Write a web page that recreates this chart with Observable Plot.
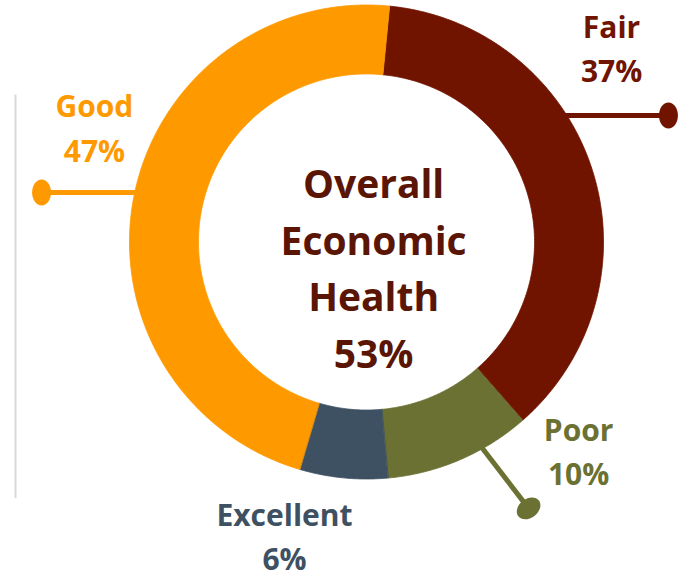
<!DOCTYPE html>
<html>
<head>
<meta charset="utf-8">
<script src="https://cdn.jsdelivr.net/npm/d3@7"></script>
<script src="https://cdn.jsdelivr.net/npm/@observablehq/plot@0.6"></script>
<style>
  html, body { margin: 0; padding: 0; background: #fff; }
  #chart { width: 687px; height: 575px; }
</style>
</head>
<body>
<div id="chart"></div>
<script>
// ---- data ----
const categories = ["Fair", "Poor", "Excellent", "Good"];
const values = [37, 10, 6, 47];
const valueLabels = ["37%", "10%", "6%", "47%"];
const centerLines = ["Overall", "Economic", "Health", "53%"];

// ---- styles / layout ----
const colors = ["#701400", "#6B7133", "#3E5162", "#FF9900"];
const centerColor = "#5A1505";
const startAngleDeg = 5.6;
const innerRatio = 0.709;
const font = "'Open Sans', Lato, sans-serif";

// label anchors (in radius units, y up)
const labelX = [1.034, 0.895, -0.346, -1.148];
const labelY = [0.827, -0.873, -1.232, 0.492];
// leader lines: start and dot (radius units)
const leaderCats = ["Fair", "Good", "Poor"];
const leaderX1 = [0.70, -0.85, 0.45];
const leaderY1 = [0.534, 0.209, -0.82];
const leaderX2 = [1.274, -1.371, 0.684];
const leaderY2 = [0.534, 0.209, -1.124];
const leaderRot = [0, 0, 52.5];

// ---- derived geometry ----
const pie = d3.pie().sort(null).value(d => d)
  .startAngle(startAngleDeg * Math.PI / 180)
  .endAngle(startAngleDeg * Math.PI / 180 + 2 * Math.PI);
const arcs = pie(values);
const ringPts = [];
arcs.forEach((a, i) => {
  const n = Math.max(8, Math.ceil((a.endAngle - a.startAngle) / (Math.PI / 360)));
  for (let k = 0; k <= n; k++) {
    const t = a.startAngle + (a.endAngle - a.startAngle) * k / n;
    ringPts.push({cat: categories[i], x: Math.sin(t), y: Math.cos(t)});
  }
  for (let k = n; k >= 0; k--) {
    const t = a.startAngle + (a.endAngle - a.startAngle) * k / n;
    ringPts.push({cat: categories[i], x: innerRatio * Math.sin(t), y: innerRatio * Math.cos(t)});
  }
});

const labels = categories.map((c, i) => ({cat: c, text: c + "\n" + valueLabels[i], x: labelX[i], y: labelY[i]}));
const leaders = leaderCats.map((c, i) => ({cat: c, x1: leaderX1[i], y1: leaderY1[i], x2: leaderX2[i], y2: leaderY2[i], rot: leaderRot[i]}));

const ellipse = {
  draw(context, size) {
    const r = Math.sqrt(size / Math.PI);
    const ry = r, rx = r * 0.73, k = 0.5523;
    context.moveTo(0, -ry);
    context.bezierCurveTo(k * rx, -ry, rx, -k * ry, rx, 0);
    context.bezierCurveTo(rx, k * ry, k * rx, ry, 0, ry);
    context.bezierCurveTo(-k * rx, ry, -rx, k * ry, -rx, 0);
    context.bezierCurveTo(-rx, -k * ry, -k * rx, -ry, 0, -ry);
    context.closePath();
  }
};

const R = 237, cx = 366, cy = 241.5, W = 687, H = 575;

const chart = Plot.plot({
  width: W,
  height: H,
  marginLeft: cx - R,
  marginRight: W - (cx + R),
  marginTop: cy - R,
  marginBottom: H - (cy + R),
  x: {domain: [-1, 1], axis: null},
  y: {domain: [-1, 1], axis: null},
  color: {domain: categories, range: colors},
  style: {fontFamily: font, background: "#fff", overflow: "visible"},
  marks: [
    Plot.ruleX([-1.481], {y1: 0.62, y2: -1.082, stroke: "#D9D9D9", strokeWidth: 2}),
    Plot.link(leaders, {x1: "x1", y1: "y1", x2: "x2", y2: "y2", stroke: "cat", strokeWidth: 5}),
    Plot.dot(leaders, {x: "x2", y: "y2", fill: "cat", r: 13, symbol: ellipse, rotate: "rot"}),
    Plot.line(ringPts, {x: "x", y: "y", z: "cat", fill: "cat", stroke: "cat", strokeWidth: 0.8, curve: "linear-closed"}),
    Plot.text(labels, {x: "x", y: "y", text: "text", fill: "cat", fontSize: 30, fontWeight: "bold", lineHeight: 1.47}),
    Plot.text([centerLines.join("\n")], {x: 0.030, y: -0.096, text: d => d, fill: centerColor, fontSize: 39, fontWeight: "bold", lineHeight: 1.46})
  ]
});
document.getElementById("chart").appendChild(chart);
</script>
</body>
</html>
